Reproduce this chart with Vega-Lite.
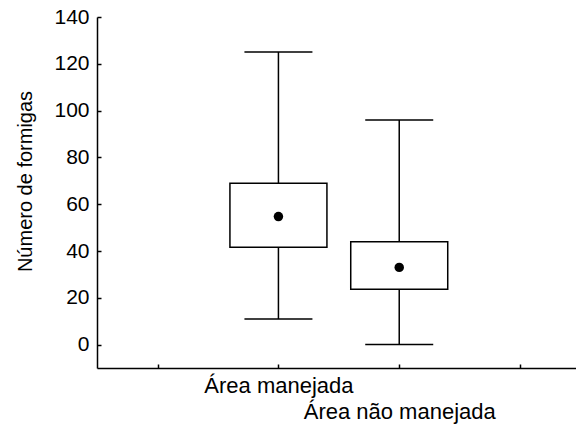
{
  "$schema": "https://vega.github.io/schema/vega-lite/v6.json",
  "width": 479,
  "height": 351,
  "autosize": "none",
  "padding": {"left": 97, "top": 17, "right": 0, "bottom": 66},
  "background": "white",
  "config": {"view": {"stroke": null}, "font": "Liberation Sans"},
  "data": {
    "values": [
      {"area": "Área manejada", "min": 10.9, "q1": 41.6, "mid": 54.7, "q3": 68.9, "max": 125},
      {"area": "Área não manejada", "min": 0, "q1": 23.7, "mid": 33, "q3": 44, "max": 96}
    ]
  },
  "encoding": {
    "x": {
      "field": "area",
      "type": "nominal",
      "scale": {"type": "point", "domain": ["_a", "Área manejada", "Área não manejada", "_b"], "padding": 0.4826, "align": 0.52},
      "axis": {
        "title": null,
        "labelAngle": 0,
        "labelOverlap": false,
        "labelBound": false,
        "labelLimit": 0,
        "labelExpr": "datum.value == 'Área não manejada' ? ['', datum.value] : (datum.value == 'Área manejada' ? datum.value : '')",
        "labelLineHeight": 26,
        "labelFontSize": 22,
        "labelColor": "black",
        "labelBaseline": "top",
        "labelPadding": 11,
        "tickSize": -4,
        "tickColor": "black",
        "tickWidth": 1.5,
        "domainColor": "black",
        "domainWidth": 1.5,
        "grid": false
      }
    }
  },
  "layer": [
    {
      "mark": {"type": "rule", "color": "black", "strokeWidth": 1.5},
      "encoding": {
        "y": {
          "field": "min",
          "type": "quantitative",
          "title": "Número de formigas",
          "scale": {"domain": [-10, 140], "nice": false, "zero": false},
          "axis": {
            "values": [0, 20, 40, 60, 80, 100, 120, 140],
            "grid": false,
            "labelFontSize": 21,
            "labelColor": "black",
            "labelPadding": 12,
            "tickSize": -4,
            "tickColor": "black",
            "tickWidth": 1.5,
            "domainColor": "black",
            "domainWidth": 1.5,
            "titleFontSize": 20,
            "titleFontWeight": "normal",
            "titleColor": "black",
            "titleAngle": -90,
            "titleX": -72,
            "titleY": 164,
            "titleAlign": "center",
            "titleBaseline": "middle"
          }
        },
        "y2": {"field": "max"}
      }
    },
    {
      "mark": {"type": "tick", "color": "black", "size": 68, "thickness": 1.5, "opacity": 1},
      "encoding": {"y": {"field": "min", "type": "quantitative", "title": "Número de formigas"}}
    },
    {
      "mark": {"type": "tick", "color": "black", "size": 68, "thickness": 1.5, "opacity": 1},
      "encoding": {"y": {"field": "max", "type": "quantitative", "title": "Número de formigas"}}
    },
    {
      "mark": {"type": "bar", "fill": "white", "stroke": "black", "strokeWidth": 1.5, "size": 97},
      "encoding": {
        "y": {"field": "q1", "type": "quantitative", "title": "Número de formigas"},
        "y2": {"field": "q3"}
      }
    },
    {
      "mark": {"type": "point", "filled": true, "color": "black", "size": 90, "opacity": 1},
      "encoding": {"y": {"field": "mid", "type": "quantitative", "title": "Número de formigas"}}
    }
  ]
}
